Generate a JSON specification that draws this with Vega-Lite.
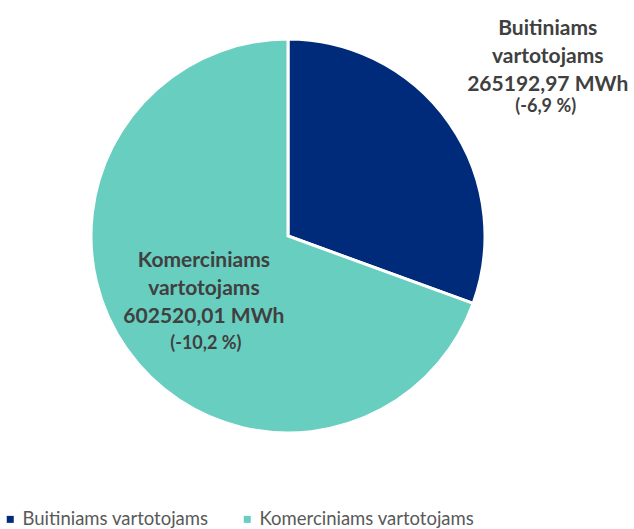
{
  "$schema": "https://vega.github.io/schema/vega-lite/v6.json",
  "width": 576,
  "height": 472,
  "autosize": {"type": "none"},
  "padding": {"left": 0, "top": 0, "right": 58, "bottom": 57},
  "background": "white",
  "config": {"view": {"stroke": null}},
  "data": {
    "values": [
      {"cat": "Buitiniams vartotojams", "value": 265192.97, "label": "Buitiniams\nvartotojams\n265192,97 MWh", "pct": "(-6,9 %)"},
      {"cat": "Komerciniams vartotojams", "value": 602520.01, "label": "Komerciniams\nvartotojams\n602520,01 MWh", "pct": "(-10,2 %)"}
    ]
  },
  "encoding": {
    "theta": {"field": "value", "type": "quantitative", "stack": true},
    "order": {"field": "cat", "sort": "ascending"},
    "detail": {"field": "cat"}
  },
  "layer": [
    {
      "mark": {"type": "arc", "outerRadius": 197, "stroke": "white", "strokeWidth": 3},
      "encoding": {
        "color": {
          "field": "cat",
          "type": "nominal",
          "scale": {"domain": ["Buitiniams vartotojams", "Komerciniams vartotojams"], "range": ["#002B7A", "#68CEBF"]},
          "legend": {
            "title": null,
            "orient": "none",
            "legendX": 1,
            "legendY": 510,
            "direction": "horizontal",
            "symbolType": "square",
            "symbolSize": 49,
            "symbolStrokeWidth": 0,
            "labelFont": "Lato",
            "labelFontSize": 18.5,
            "labelColor": "#595959",
            "labelOffset": 3,
            "columnPadding": 29,
            "padding": 0,
            "labelLimit": 400
          }
        }
      }
    },
    {
      "mark": {"type": "text", "font": "Lato", "fontWeight": "bold", "fontSize": 21, "lineHeight": 28, "lineBreak": "\n", "align": "center", "baseline": "middle", "color": "#404040", "dy": -25},
      "encoding": {
        "radius": {"value": 317},
        "text": {"condition": {"test": "datum.cat === 'Buitiniams vartotojams'", "field": "label"}, "value": ""}
      }
    },
    {
      "mark": {"type": "text", "font": "Lato", "fontWeight": "bold", "fontSize": 18, "align": "center", "baseline": "middle", "color": "#404040", "dy": 53, "dx": -2},
      "encoding": {
        "radius": {"value": 317},
        "text": {"condition": {"test": "datum.cat === 'Buitiniams vartotojams'", "field": "pct"}, "value": ""}
      }
    },
    {
      "mark": {"type": "text", "font": "Lato", "fontWeight": "bold", "fontSize": 21, "lineHeight": 28, "lineBreak": "\n", "align": "center", "baseline": "middle", "color": "#404040", "dx": -3, "dy": -32},
      "encoding": {
        "radius": {"value": 99},
        "text": {"condition": {"test": "datum.cat === 'Komerciniams vartotojams'", "field": "label"}, "value": ""}
      }
    },
    {
      "mark": {"type": "text", "font": "Lato", "fontWeight": "bold", "fontSize": 18, "align": "center", "baseline": "middle", "color": "#404040", "dx": -1, "dy": 51},
      "encoding": {
        "radius": {"value": 99},
        "text": {"condition": {"test": "datum.cat === 'Komerciniams vartotojams'", "field": "pct"}, "value": ""}
      }
    }
  ]
}
